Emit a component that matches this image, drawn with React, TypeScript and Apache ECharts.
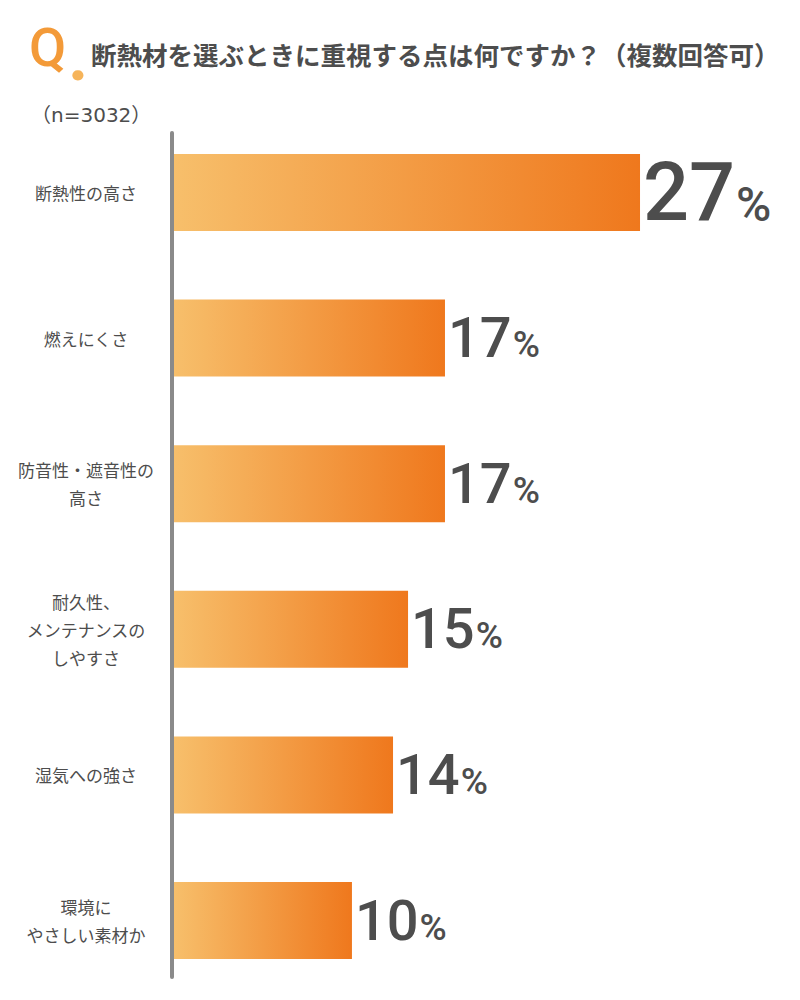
import React, { useEffect, useRef } from "react";
import * as echarts from "echarts";

// ---- data ----
const categories: string[] = [
  "断熱性の高さ",
  "燃えにくさ",
  "防音性・遮音性の\n高さ",
  "耐久性、\nメンテナンスの\nしやすさ",
  "湿気への強さ",
  "環境に\nやさしい素材か",
];
// bar lengths as drawn in the picture (percentage units)
const barLengths: number[] = [27, 15.7, 15.7, 13.56, 12.69, 10.31];
// printed labels
const percentLabels: string[] = ["27", "17", "17", "15", "14", "10"];
const titleText = "断熱材を選ぶときに重視する点は何ですか？（複数回答可）";
const sampleText = "（n=3032）";

const TEXT = "#4d4d4d";
const CJK = "'Noto Sans CJK JP', 'Noto Sans', sans-serif";

export default function App() {
  const ref = useRef<HTMLDivElement>(null);
  useEffect(() => {
    if (!ref.current) return;
    const chart = echarts.init(ref.current, null, { renderer: "svg" });
    const barGrad = new echarts.graphic.LinearGradient(0, 0, 1, 0, [
      { offset: 0, color: "#f7bf6b" },
      { offset: 1, color: "#ef781d" },
    ]);
    chart.setOption({
      animation: false,
      backgroundColor: "#ffffff",
      grid: { left: 174, right: 108.2, top: 119.7, height: 873.6, containLabel: false },
      xAxis: { type: "value", min: 0, max: 30, show: false },
      yAxis: {
        type: "category",
        inverse: true,
        data: categories,
        axisLine: { show: false },
        axisTick: { show: false },
        splitLine: { show: false },
        axisLabel: {
          align: "center",
          margin: 88,
          fontSize: 17,
          lineHeight: 28,
          color: TEXT,
          fontFamily: CJK,
        },
      },
      series: [
        {
          type: "bar",
          data: barLengths,
          barWidth: 77,
          itemStyle: { color: barGrad },
          label: {
            show: true,
            position: "right",
            distance: 3,
            formatter: (p: any) =>
              p.dataIndex === 0
                ? `{b|${percentLabels[p.dataIndex]}}{bp|%}`
                : `{n|${percentLabels[p.dataIndex]}}{p|%}`,
            rich: {
              b: { fontSize: 81, fontWeight: 500, fontFamily: "Roboto", color: TEXT, verticalAlign: "bottom" },
              bp: { fontSize: 48, fontWeight: 500, fontFamily: "Roboto", color: TEXT, verticalAlign: "bottom", padding: [0, 0, 5, 1] },
              n: { fontSize: 56, fontWeight: 500, fontFamily: "Roboto", color: TEXT, verticalAlign: "bottom" },
              p: { fontSize: 37, fontWeight: 500, fontFamily: "Roboto", color: TEXT, verticalAlign: "bottom", padding: [0, 0, 3, 1] },
            },
          },
        },
      ],
      graphic: [
        {
          type: "text",
          x: 29,
          y: 47.5,
          style: {
            text: "Q",
            fontSize: 54,
            fontWeight: 500,
            fontFamily: "Roboto",
            fill: "#f39a38",
            verticalAlign: "middle",
          },
        },
        {
          type: "text",
          x: 68,
          y: 56,
          style: {
            text: ".",
            fontSize: 70,
            fontWeight: "bold",
            fontFamily: "Roboto",
            fill: "#f6b45a",
            verticalAlign: "middle",
          },
        },
        {
          type: "text",
          x: 91,
          y: 53,
          style: {
            text: titleText,
            fontSize: 25.5,
            fontWeight: "bold",
            fontFamily: CJK,
            fill: TEXT,
            verticalAlign: "middle",
          },
        },
        {
          type: "text",
          x: 31,
          y: 115,
          style: {
            text: sampleText,
            fontSize: 20,
            fontFamily: "'DejaVu Sans', 'Noto Sans CJK JP', sans-serif",
            fill: TEXT,
            verticalAlign: "middle",
          },
        },
        {
          type: "rect",
          shape: { x: 170, y: 131, width: 4, height: 848, r: 2 },
          style: { fill: "#8a8a8a" },
        },
      ],
    });
    return () => chart.dispose();
  }, []);
  return (
    <div
      ref={ref}
      style={{ position: "absolute", left: 0, top: 0, width: 800, height: 1000 }}
    />
  );
}
